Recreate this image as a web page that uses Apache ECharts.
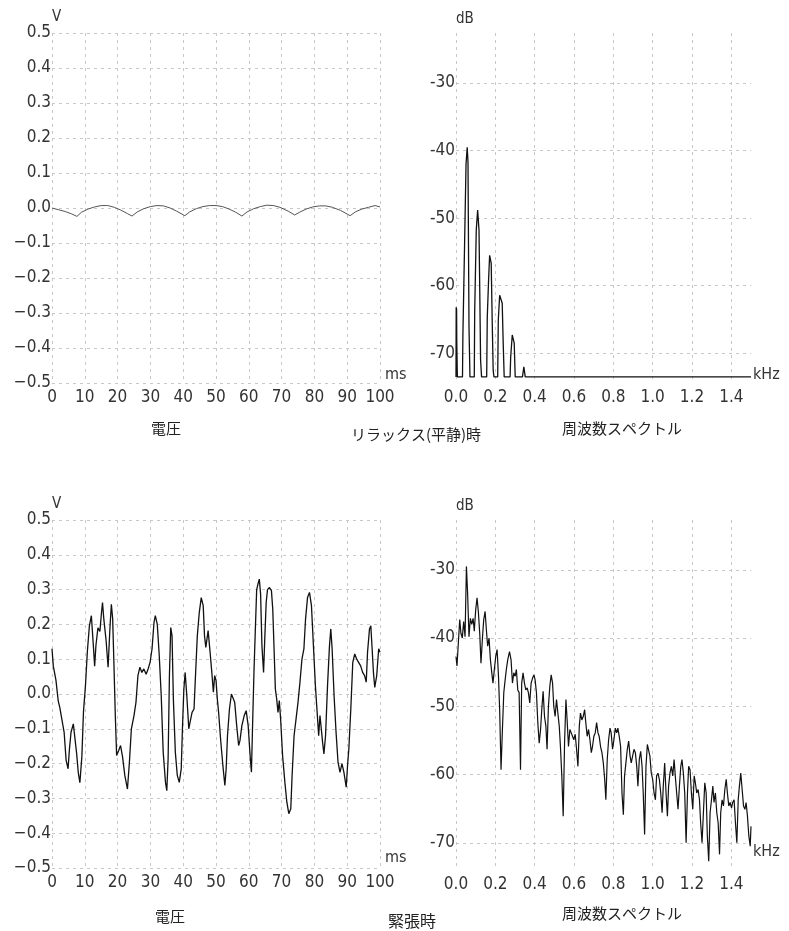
<!DOCTYPE html>
<html>
<head>
<meta charset="utf-8">
<title>電圧と周波数スペクトル</title>
<script src="https://cdn.jsdelivr.net/npm/echarts@6/dist/echarts.min.js"></script>
<style>
  html, body { margin: 0; padding: 0; background: #fff; }
  #chart { width: 789px; height: 931px; }
</style>
</head>
<body>
<div id="chart"></div>
<script>
// リラックス(平静)時 電圧 (ms, V)
const relaxTime = [0, 2, 4, 6, 7.6, 9, 11, 13, 15, 17, 19, 21, 23, 24.4, 26, 28, 30, 32, 34, 36,
  38, 40.5, 42, 44, 46, 48, 50, 52, 54, 56, 57.9, 59.5, 61.5, 63.5, 65.5, 67.5, 69.5, 72, 74, 75.5,
  77.5, 79.5, 81.5, 83.5, 85.5, 88, 90.9, 92.5, 94.5, 96.5, 98.5, 100];
const relaxVolt = [0, -0.005, -0.01, -0.017, -0.024, -0.012, -0.003, 0.003, 0.007, 0.007, 0.002, -0.006, -0.016, -0.023, -0.011, -0.002, 0.004, 0.007, 0.006, 0.000,
  -0.009, -0.022, -0.011, -0.002, 0.004, 0.007, 0.007, 0.004, -0.003, -0.012, -0.023, -0.011, -0.002, 0.004, 0.008, 0.007, 0.002, -0.009, -0.020, -0.012,
  -0.003, 0.003, 0.006, 0.006, 0.002, -0.007, -0.022, -0.011, -0.003, 0.002, 0.007, 0.003];

// リラックス(平静)時 周波数スペクトル (kHz, dB)
const relaxFreq = [0, 0.001, 0.003, 0.004, 0.006, 0.007, 0.033, 0.035, 0.044, 0.051, 0.057, 0.061, 0.066, 0.071,
  0.093, 0.095, 0.103, 0.110, 0.113, 0.117, 0.120, 0.125, 0.130,
  0.156, 0.159, 0.166, 0.171, 0.174, 0.179, 0.184, 0.189, 0.193,
  0.212, 0.215, 0.222, 0.230, 0.235, 0.240, 0.245,
  0.275, 0.278, 0.286, 0.291, 0.296, 0.301, 0.338, 0.345, 0.352, 1.5];
const relaxDb = [-73.5, -63.2, -63.5, -68.4, -68.4, -73.5, -73.5, -67.5, -53.3, -42.0, -39.5, -41.7, -66.0, -73.5,
  -73.5, -63.9, -51.8, -48.8, -48.7, -51.8, -58.7, -71.0, -73.5,
  -73.5, -64.7, -58.9, -55.5, -55.4, -56.7, -65.1, -72.5, -73.5,
  -73.5, -65.1, -61.4, -61.2, -62.6, -68.5, -73.5,
  -73.5, -70.6, -67.3, -67.1, -68.5, -73.5, -73.5, -72.0, -73.5, -73.5];

// 緊張時 電圧 (ms, V)
const tenseTime = [
  0, 0.4, 1.2, 1.9, 2.4, 3.0, 3.7, 4.3, 4.9, 5.3,
  5.8, 6.5, 7.1, 7.5, 8.0, 8.5, 9.1, 9.6, 10.2, 10.8,
  11.4, 12.0, 12.6, 13.0, 13.4, 14.0, 14.6, 15.1, 15.4, 15.8,
  16.5, 17.1, 17.7, 18.1, 18.5, 18.9, 19.3, 19.7, 20.3, 20.9,
  21.5, 22.2, 23.0, 23.6, 24.2, 25.0, 25.6, 26.2, 26.8, 27.4,
  28.0, 28.7, 29.3, 29.9, 30.5, 31.1, 31.5, 32.1, 32.7, 33.3,
  33.9, 34.6, 35.0, 35.4, 35.8, 36.2, 36.6, 37.0, 37.6, 38.2,
  38.8, 39.4, 39.8, 40.2, 40.6, 41.1, 41.7, 42.1, 42.7, 43.3,
  43.7, 44.3, 44.9, 45.5, 46.1, 46.5, 46.9, 47.6, 48.2, 48.8,
  49.2, 49.6, 50.0, 50.4, 50.8, 51.4, 52.1, 52.7, 53.1, 53.5,
  54.1, 54.7, 55.1, 55.7, 56.3, 56.9, 57.3, 57.9, 58.6, 59.2,
  59.8, 60.4, 60.8, 61.2, 61.6, 62.0, 62.4, 62.8, 63.2, 63.6,
  64.0, 64.5, 64.9, 65.3, 65.7, 66.3, 66.9, 67.3, 67.7, 68.1,
  68.5, 68.9, 69.3, 69.7, 70.3, 71.0, 71.6, 72.2, 72.8, 73.2,
  73.8, 74.4, 75.0, 75.6, 76.2, 76.8, 77.3, 77.9, 78.5, 79.1,
  79.7, 80.3, 80.9, 81.3, 81.7, 82.1, 82.5, 82.9, 83.4, 84.0,
  84.6, 85.0, 85.4, 86.0, 86.6, 87.2, 87.8, 88.4, 89.0, 89.7,
  90.1, 90.5, 91.1, 91.7, 92.3, 92.9, 93.5, 94.1, 94.7, 95.3,
  95.8, 96.2, 96.8, 97.2, 97.6, 98.0, 98.4, 99.0, 99.6, 100];
const tenseVolt = [
  0.13, 0.08, 0.04, -0.02, -0.04, -0.04, -0.11, -0.19, -0.215, -0.16,
  -0.11, -0.086, -0.09, -0.17, -0.225, -0.255, -0.18, -0.05, 0.024, 0.125,
  0.196, 0.225, 0.14, 0.08, 0.14, 0.19, 0.18, 0.235, 0.263, 0.215,
  0.153, 0.077, 0.196, 0.258, 0.215, 0.08, -0.062, -0.177, -0.163, -0.148,
  -0.18, -0.234, -0.273, -0.196, -0.10, -0.062, -0.024, 0.053, 0.077, 0.062,
  0.072, 0.057, 0.072, 0.091, 0.13, 0.206, 0.225, 0.20, 0.11, -0.005,
  -0.167, -0.254, -0.278, -0.187, 0.053, 0.191, 0.167, -0.014, -0.167, -0.234,
  -0.254, -0.215, -0.09, 0.014, 0.062, -0.005, -0.10, -0.081, -0.053, -0.043,
  0.043, 0.167, 0.234, 0.277, 0.254, 0.167, 0.134, 0.182, 0.12, 0.053,
  0.005, 0.053, 0.04, -0.014, -0.053, -0.13, -0.206, -0.263, -0.215, -0.12,
  -0.043, 0.0, 0.005, -0.024, -0.09, -0.148, -0.134, -0.09, -0.062, -0.048,
  -0.09, -0.177, -0.225, -0.072, 0.072, 0.187, 0.30, 0.316, 0.33, 0.287,
  0.139, 0.062, 0.167, 0.263, 0.30, 0.306, 0.297, 0.244, 0.13, 0.014,
  -0.014, -0.053, -0.019, -0.072, -0.177, -0.254, -0.311, -0.344, -0.33, -0.234,
  -0.12, -0.072, -0.024, 0.034, 0.10, 0.13, 0.215, 0.277, 0.292, 0.254,
  0.139, 0.024, -0.062, -0.12, -0.062, -0.10, -0.139, -0.172, -0.12, 0.024,
  0.139, 0.187, 0.13, -0.005, -0.11, -0.196, -0.225, -0.20, -0.225, -0.268,
  -0.206, -0.158, -0.043, 0.091, 0.115, 0.10, 0.105, 0.081, 0.062, 0.053,
  0.034, 0.12, 0.187, 0.196, 0.13, 0.062, 0.019, 0.053, 0.13, 0.12];

// 緊張時 周波数スペクトル (kHz, dB)
const tenseFreq = [
  0.000, 0.005, 0.012, 0.019, 0.025, 0.032, 0.039, 0.046, 0.053, 0.059,
  0.066, 0.073, 0.080, 0.087, 0.093, 0.100, 0.107, 0.114, 0.121, 0.127,
  0.134, 0.141, 0.148, 0.155, 0.161, 0.168, 0.175, 0.182, 0.188, 0.195,
  0.202, 0.209, 0.216, 0.222, 0.229, 0.236, 0.243, 0.250, 0.256, 0.263,
  0.272, 0.280, 0.287, 0.294, 0.301, 0.307, 0.314, 0.321, 0.328, 0.334,
  0.341, 0.348, 0.355, 0.362, 0.368, 0.375, 0.382, 0.389, 0.396, 0.402,
  0.409, 0.416, 0.423, 0.430, 0.436, 0.443, 0.450, 0.457, 0.463, 0.470,
  0.477, 0.484, 0.491, 0.497, 0.504, 0.511, 0.518, 0.525, 0.531, 0.538,
  0.545, 0.552, 0.559, 0.565, 0.572, 0.579, 0.586, 0.593, 0.599, 0.606,
  0.613, 0.620, 0.627, 0.633, 0.640, 0.647, 0.654, 0.660, 0.667, 0.674,
  0.681, 0.688, 0.694, 0.701, 0.708, 0.715, 0.722, 0.728, 0.735, 0.742,
  0.749, 0.756, 0.762, 0.769, 0.776, 0.783, 0.789, 0.796, 0.803, 0.810,
  0.817, 0.823, 0.830, 0.837, 0.844, 0.851, 0.857, 0.864, 0.871, 0.878,
  0.885, 0.891, 0.898, 0.905, 0.912, 0.919, 0.925, 0.932, 0.939, 0.946,
  0.952, 0.959, 0.966, 0.973, 0.980, 0.986, 0.993, 1.000, 1.007, 1.014,
  1.020, 1.027, 1.034, 1.041, 1.048, 1.054, 1.061, 1.068, 1.075, 1.081,
  1.088, 1.095, 1.102, 1.109, 1.115, 1.122, 1.129, 1.136, 1.143, 1.149,
  1.156, 1.163, 1.170, 1.177, 1.183, 1.190, 1.197, 1.204, 1.211, 1.217,
  1.224, 1.231, 1.238, 1.244, 1.251, 1.258, 1.265, 1.272, 1.278, 1.285,
  1.292, 1.299, 1.306, 1.312, 1.319, 1.326, 1.333, 1.340, 1.346, 1.353,
  1.360, 1.367, 1.374, 1.380, 1.387, 1.394, 1.401, 1.407, 1.414, 1.421,
  1.428, 1.435, 1.441, 1.448, 1.455, 1.462, 1.469, 1.475, 1.482, 1.489,
  1.496, 1.500];
const tenseDb = [
  -42.7, -44.1, -40.7, -37.3, -39.3, -40.0, -37.6, -39.8, -29.5, -33.4,
  -39.8, -37.1, -38.0, -37.1, -39.0, -35.9, -34.1, -36.3, -39.5, -43.7,
  -40.2, -37.3, -36.1, -39.0, -41.2, -40.0, -43.2, -45.1, -46.6, -44.6,
  -42.7, -41.7, -45.6, -50.5, -59.3, -53.4, -48.0, -46.1, -44.6, -43.2,
  -42.0, -43.2, -46.6, -45.1, -45.6, -44.6, -47.6, -48.0, -59.3, -46.6,
  -45.1, -46.6, -47.6, -47.3, -48.0, -49.5, -46.6, -45.9, -45.4, -46.1,
  -48.0, -52.4, -55.4, -53.4, -50.5, -47.8, -51.5, -52.9, -56.3, -50.0,
  -47.1, -45.4, -46.6, -50.0, -51.5, -49.0, -51.0, -52.9, -55.9, -60.2,
  -66.1, -55.4, -49.0, -52.0, -55.9, -53.4, -53.9, -53.7, -54.9, -54.1,
  -56.3, -58.8, -52.9, -51.0, -52.0, -51.5, -50.5, -52.4, -54.4, -53.4,
  -54.9, -56.8, -55.9, -54.4, -53.9, -52.4, -53.9, -54.4, -55.9, -56.8,
  -58.3, -60.7, -63.7, -57.8, -54.9, -53.2, -53.9, -56.3, -54.9, -53.2,
  -53.9, -53.2, -54.4, -55.9, -62.7, -65.9, -60.2, -58.3, -56.3, -55.1,
  -57.3, -58.3, -57.3, -56.3, -56.8, -58.8, -61.7, -57.8, -56.6, -58.8,
  -62.7, -68.8, -58.8, -55.6, -55.4, -57.3, -59.8, -60.7, -62.7, -63.7,
  -60.2, -59.8, -60.7, -62.7, -65.6, -61.7, -58.3, -62.7, -66.1, -61.7,
  -59.8, -58.8, -60.2, -57.8, -60.2, -62.7, -65.1, -61.7, -58.8, -57.8,
  -59.8, -62.7, -70.0, -62.7, -58.8, -59.3, -62.7, -65.1, -60.2, -61.2,
  -62.7, -62.2, -63.7, -67.1, -70.0, -65.6, -61.2, -62.7, -69.0, -72.7,
  -65.6, -63.7, -61.7, -64.1, -62.7, -65.6, -67.1, -71.7, -65.6, -63.7,
  -64.6, -62.2, -60.7, -62.7, -64.6, -64.1, -64.9, -64.1, -63.7, -67.1,
  -70.0, -63.7, -61.7, -59.8, -62.2, -64.6, -65.1, -64.1, -66.1, -69.0,
  -70.5, -67.6];

const FONT = '"DejaVu Sans Condensed", "Liberation Sans Narrow", "DejaVu Sans", sans-serif';
const CJK = '"Noto Sans CJK JP", sans-serif';
const TEXT_COLOR = '#333';
const gridLine = { color: '#c8c8c8', width: 1, type: [3, 4] };

// 2本の配列を [x, y] に
function zip(xs, ys) {
    return xs.map((x, i) => [x, ys[i]]);
}

// 時間軸 (ms)
function timeAxis(gridIndex, namePad) {
    return {
        type: 'value', gridIndex: gridIndex,
        min: 0, max: 100, interval: 10,
        name: 'ms', nameLocation: 'end', nameGap: 5,
        nameTextStyle: { fontFamily: FONT, fontSize: 16, color: TEXT_COLOR, align: 'left', verticalAlign: 'bottom', padding: [0, 0, namePad, 0] },
        axisLine: { show: false, onZero: false }, axisTick: { show: false },
        axisLabel: { margin: 6, fontFamily: FONT, fontSize: 17, color: TEXT_COLOR },
        splitLine: { show: true, lineStyle: gridLine }
    };
}

// 電圧軸 (V)
function voltAxis(gridIndex, nameGap) {
    return {
        type: 'value', gridIndex: gridIndex,
        min: -0.5, max: 0.5, interval: 0.1,
        name: 'V', nameLocation: 'end', nameGap: nameGap,
        nameTextStyle: { fontFamily: FONT, fontSize: 15, color: TEXT_COLOR, align: 'left', verticalAlign: 'bottom' },
        axisLine: { show: false, onZero: false }, axisTick: { show: false },
        axisLabel: {
            margin: 1, fontFamily: FONT, fontSize: 17, color: TEXT_COLOR,
            formatter: v => Math.abs(v) < 1e-9 ? '0.0' : v.toFixed(1).replace('-', '\u2212')
        },
        splitLine: { show: true, lineStyle: gridLine }
    };
}

// 周波数軸 (kHz)
function freqAxis(gridIndex, namePad, labelMargin) {
    return {
        type: 'value', gridIndex: gridIndex,
        min: 0, max: 1.5, interval: 0.2,
        name: 'kHz', nameLocation: 'end', nameGap: 2,
        nameTextStyle: { fontFamily: FONT, fontSize: 16, color: TEXT_COLOR, align: 'left', verticalAlign: 'bottom', padding: [0, 0, namePad, 0] },
        axisLine: { show: false, onZero: false }, axisTick: { show: false },
        axisLabel: {
            margin: labelMargin, fontFamily: FONT, fontSize: 17, color: TEXT_COLOR,
            showMaxLabel: false, formatter: v => v.toFixed(1)
        },
        splitLine: { show: true, showMaxLine: false, lineStyle: gridLine }
    };
}

// dB 軸
function dbAxis(gridIndex, min, max) {
    return {
        type: 'value', gridIndex: gridIndex,
        min: min, max: max,
        name: 'dB', nameLocation: 'end', nameGap: 6,
        nameTextStyle: { fontFamily: FONT, fontSize: 15, color: TEXT_COLOR, align: 'left', verticalAlign: 'bottom' },
        axisLine: { show: false, onZero: false }, axisTick: { show: false },
        axisLabel: {
            margin: 1, fontFamily: FONT, fontSize: 17, color: TEXT_COLOR,
            showMinLabel: false, showMaxLabel: false,
            formatter: v => (Math.abs(v % 10) < 1e-6 ? String(Math.round(v)) : '')
        },
        splitLine: { show: true, showMinLine: false, showMaxLine: false, lineStyle: gridLine }
    };
}

function lineSeries(name, xi, data, color, width) {
    return {
        name: name, type: 'line', xAxisIndex: xi, yAxisIndex: xi,
        data: data, showSymbol: false, symbol: 'none',
        lineStyle: { color: color, width: width }, silent: true
    };
}

function label(text, x, y, size) {
    return {
        text: text, left: x, top: y, textAlign: 'center', padding: 0,
        textStyle: { fontFamily: CJK, fontSize: size, fontWeight: 'normal', color: '#222' }
    };
}

function createChart(element, option) {
    let myChart = echarts.init(element, null, { renderer: 'canvas' });
    myChart.setOption(option);
    return myChart;
}

createChart(document.getElementById('chart'), {
    backgroundColor: '#fff',
    animation: false,
    title: [
        label('電圧', 166, 421, 15),
        label('リラックス(平静)時', 416, 427, 15),
        label('周波数スペクトル', 622, 421, 15),
        label('電圧', 170, 909, 15),
        label('緊張時', 412, 913, 16),
        label('周波数スペクトル', 622, 906, 15)
    ],
    grid: [
        { left: 52, top: 33, width: 328, height: 350 },
        { left: 456, top: 33, width: 295, height: 350 },
        { left: 52, top: 520, width: 328, height: 348 },
        { left: 456, top: 520, width: 295, height: 348 }
    ],
    xAxis: [
        timeAxis(0, 0),
        freqAxis(1, 0, 6),
        timeAxis(2, 2),
        freqAxis(3, 8, 8)
    ],
    yAxis: [
        voltAxis(0, 6),
        dbAxis(1, -74.4, -22.6),
        voltAxis(2, 8),
        dbAxis(3, -73.7, -22.7)
    ],
    series: [
        lineSeries('リラックス 電圧', 0, zip(relaxTime, relaxVolt), '#555', 1),
        lineSeries('リラックス スペクトル', 1, zip(relaxFreq, relaxDb), '#111', 1.3),
        lineSeries('緊張 電圧', 2, zip(tenseTime, tenseVolt), '#111', 1.3),
        lineSeries('緊張 スペクトル', 3, zip(tenseFreq, tenseDb), '#111', 1.2)
    ]
});
</script>
</body>
</html>
